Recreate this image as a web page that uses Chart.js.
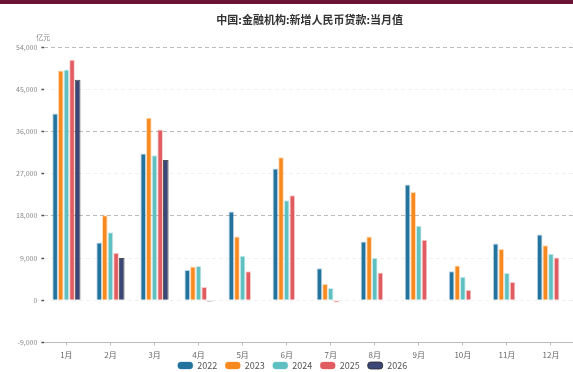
<!DOCTYPE html>
<html>
<head>
<meta charset="utf-8">
<script src="https://cdn.jsdelivr.net/npm/chart.js@4.4.1/dist/chart.umd.min.js"></script>
<style>
    body { margin: 0; background: #fff; }
    #topbar { height: 4px; background: #6b1535; }
    #wrap { width: 573px; height: 368px; position: relative; }
</style>
</head>
<body>
<div id="topbar"></div>
<div id="wrap"><canvas id="myChart"></canvas></div>
<script>
// data (亿元)
const months = ['1月', '2月', '3月', '4月', '5月', '6月', '7月', '8月', '9月', '10月', '11月', '12月'];
const y2022 = [39800, 12300, 31300, 6454, 18900, 28100, 6790, 12500, 24700, 6152, 12100, 14000];
const y2023 = [49000, 18100, 38900, 7188, 13600, 30500, 3459, 13600, 23100, 7384, 10900, 11700];
const y2024 = [49200, 14500, 30900, 7300, 9500, 21300, 2600, 9000, 15900, 5000, 5800, 9900];
const y2025 = [51300, 10100, 36400, 2800, 6200, 22400, -500, 5900, 12900, 2200, 3900, 9100];
const y2026 = [47000, 9000, 29900, -300, null, null, null, null, null, null, null, null];
const yTicks = [-9000, 0, 9000, 18000, 27000, 36000, 45000, 54000];

const titleText = '中国:金融机构:新增人民币贷款:当月值';
const unitText = '亿元';
const font = '"Noto Sans CJK SC", "Noto Sans", sans-serif';

// title + unit drawn against the chart area
const extraText = {
    id: 'extraText',
    afterLayout(chart) {
        // legend box is squeezed, so let it start higher (it overlaps the axis padding)
        chart.legend.top -= 12;
    },
    afterDraw(chart) {
        const c = chart.ctx, a = chart.chartArea;
        c.save();
        c.fillStyle = '#333';
        c.font = 'bold 11px ' + font;
        c.textAlign = 'center';
        c.textBaseline = 'middle';
        c.fillText(titleText, (a.left + a.right) / 2 + 1, 16);
        c.fillStyle = '#888';
        c.font = '7px ' + font;
        c.textAlign = 'left';
        c.fillText(unitText, a.left - 8, a.top - 10);
        c.restore();
    }
};

function ds(label, data, color, border) {
    return {
        label: label,
        data: data,
        backgroundColor: color,
        borderColor: border,
        borderWidth: 1,
        categoryPercentage: 0.64,
        barPercentage: 1.0
    };
}

const ctx = document.getElementById('myChart').getContext('2d');
const myChart = new Chart(ctx, {
    type: 'bar',
    data: {
        labels: months,
        datasets: [
            ds('2022', y2022, '#22739e', 'rgba(34,115,158,0.3)'),
            ds('2023', y2023, '#f7891e', 'rgba(247,137,30,0.3)'),
            ds('2024', y2024, '#5ec0c0', 'rgba(94,192,192,0.3)'),
            ds('2025', y2025, '#e15c60', 'rgba(225,92,96,0.3)'),
            ds('2026', y2026, '#3c4677', 'rgba(40,40,40,0.8)')
        ]
    },
    options: {
        responsive: true,
        maintainAspectRatio: false,
        animation: false,
        layout: { padding: { top: 43, right: 0, left: 12, bottom: 0 } },
        plugins: {
            legend: {
                position: 'bottom',
                maxHeight: 7,
                labels: {
                    font: { family: font, size: 9 },
                    color: '#555',
                    boxWidth: 15,
                    boxHeight: 7,
                    useBorderRadius: true,
                    borderRadius: 3,
                    padding: 8
                }
            },
            tooltip: { enabled: false }
        },
        scales: {
            x: {
                grid: {
                    offset: false,
                    drawOnChartArea: false,
                    tickLength: 3,
                    tickColor: '#bbb'
                },
                border: { color: '#bbb' },
                ticks: {
                    font: { family: font, size: 8 },
                    color: '#666',
                    padding: 5,
                    maxRotation: 0
                }
            },
            y: {
                min: yTicks[0],
                max: yTicks[yTicks.length - 1],
                afterBuildTicks(axis) {
                    axis.ticks = yTicks.map(v => ({ value: v }));
                },
                border: { display: false, dash: [4, 3] },
                grid: {
                    color(c) {
                        const v = c.tick ? c.tick.value : 0;
                        if (v === -9000) return 'rgba(0,0,0,0)';
                        if (v === 54000 || v === 36000 || v === 18000) return '#bbb';
                        return '#f0f0f0';
                    },
                    tickColor: '#555',
                    tickLength: 3,
                    tickWidth: 1.5
                },
                ticks: {
                    font: { family: font, size: 7 },
                    color: '#888',
                    padding: 4,
                    callback: v => v.toLocaleString('en-US')
                }
            }
        }
    },
    plugins: [extraText]
});
</script>
</body>
</html>
